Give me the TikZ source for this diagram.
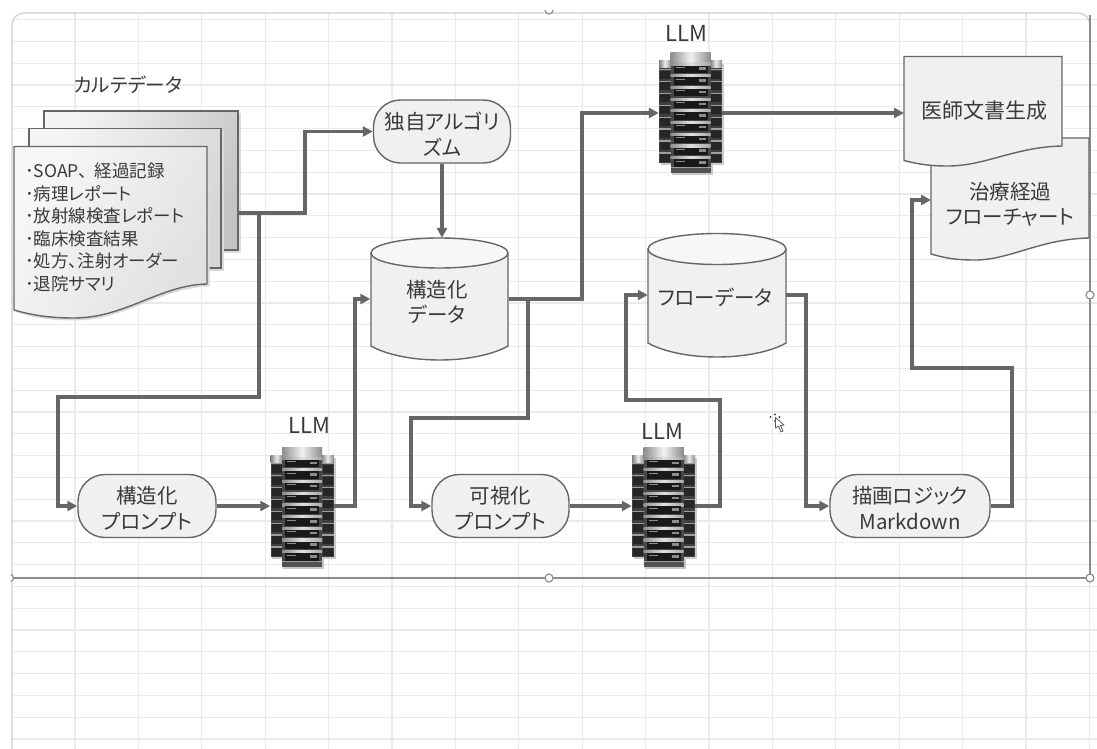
\documentclass[tikz,border=0pt]{standalone}
\usepackage{fontspec}
\setmainfont[RawFeature=+palt]{Noto Sans CJK JP}
\usetikzlibrary{arrows.meta,calc}
\definecolor{inkc}{HTML}{3A3A3A}
\definecolor{linec}{HTML}{666666}
\definecolor{edgec}{HTML}{666666}
\definecolor{fillc}{HTML}{F0F0F2}
\definecolor{gridc}{HTML}{EAEAEA}
\definecolor{framec}{HTML}{8C8C8C}
\newcommand\ftl{\rule{0pt}{22pt}}
\tikzset{
  x=1pt,y=-1pt,
  conn/.style={draw=linec,line width=3.2pt,line join=miter,>={Triangle[length=10pt,width=10pt]}},
  pill/.style={draw=edgec,line width=1.4pt,fill=fillc,rectangle,rounded corners=27pt,inner sep=0pt,minimum width=#1,minimum height=63pt,align=center,text=inkc,font=\fontsize{20.5}{26}\selectfont},
  cylbox/.style={rectangle,inner sep=0pt,minimum width=138pt,minimum height=#1},
  srvbox/.style={rectangle,inner sep=0pt,minimum width=63pt,minimum height=122pt},
  lab/.style={text=inkc,align=center,inner sep=0pt,font=\fontsize{20.5}{25}\selectfont},
  handle/.style={circle,draw=framec,fill=white,line width=1.2pt,minimum size=8pt,inner sep=0pt},
  srv/.pic={
    \fill[black!20] (-30,-49) rectangle (33.5,52);
    \fill[black!22] (-19,50) rectangle (22,62);
    \foreach \s in {-1,1}{
      \fill[black!75] ({\s*25.5-6},-52) rectangle ({\s*25.5+6},50);
      \shade[left color=black!50,right color=black!45,middle color=black!8] ({\s*25.5-6},-52) rectangle ({\s*25.5+6},-45);
      \foreach \i in {0,...,7}{
        \fill[black!38] ({\s*25.5-6},{-44+\i*11.9}) rectangle ({\s*25.5+6},{-42.6+\i*11.9});
        \fill[black!85] ({\s*25.5-5},{-42.4+\i*11.9}) rectangle ({\s*25.5+5},{-34.4+\i*11.9});
      }
    }
    \fill[black!72] (-20,-60) rectangle (20,60);
    \shade[left color=black!45,right color=black!45,middle color=black!5] (-20,-60) rectangle (20,-50);
    \foreach \i in {0,...,8}{
      \shade[left color=black!45,right color=black!35,middle color=black!12] (-20,{-50+\i*11.7}) rectangle (20,{-47.8+\i*11.7});
      \fill[black!90] (-17,{-47.4+\i*11.7}) rectangle (17,{-40+\i*11.7});
      \fill[black!45] (-15,{-46+\i*11.7}) rectangle (-6,{-45.4+\i*11.7});
      \fill[black!45] (8,{-45.5+\i*11.7}) rectangle (15,{-43+\i*11.7});
    }
    \fill[black!68] (-20,55) rectangle (20,60);
    \fill[black!38] (-20,54) rectangle (20,55);
  }
}
\begin{document}
\begin{tikzpicture}
\useasboundingbox (0,0) rectangle (1097,749);
\fill[white] (0,0) rectangle (1097,749);
% sheet grid
\begin{scope}
  \clip[rounded corners=12pt] (12,13) rectangle (1090,780);
  \foreach \k in {0,...,16} \draw[gridc,line width=1.1pt] ({75+63.4*\k},13) -- ({75+63.4*\k},749);
  \foreach \k in {0,...,33} \draw[gridc,line width=1.1pt] (12,{739-21.8*\k}) -- (1097,{739-21.8*\k});
\end{scope}
\foreach \k in {0,...,33} \draw[gridc,line width=1.1pt] (1090,{739-21.8*\k}) -- (1097,{739-21.8*\k});
\draw[gridc!88!black,line width=1.2pt,rounded corners=12pt] (1090,30) -- (1090,13) -- (12,13) -- (12,780);
% selection frame
\draw[framec,line width=1.1pt] (1090,15) -- (1090,578) -- (12,578);
\node[handle] (hRight) at (1090,295) {};
\node[handle] (hCorner) at (1090,578) {};
\node[handle] (hBottom) at (549,578) {};
\begin{scope}
  \clip (10.5,10.5) rectangle (1097,749);
  \node[handle] (hTop) at (549,10) {};
  \node[handle,minimum size=7pt] (hLeft) at (10,578) {};
\end{scope}
% chart data stack
\fill[black!14] (46,113) rectangle (240.5,252.5);
\shade[left color=white!96!black,right color=black!23,shading angle=65] (44,111) rectangle (238,250);
\draw[edgec,line width=1.4pt] (44,111) rectangle (238,250);
\fill[black!14] (31,130) rectangle (223.5,270.5);
\shade[left color=white!96!black,right color=black!16,shading angle=65] (29,128.5) rectangle (221,268);
\draw[edgec,line width=1.4pt] (29,128.5) rectangle (221,268);
\fill[black!14] (16,149) -- (209.5,149) -- (209.5,286.5) .. controls (160,288) and (125,320.5) .. (76,320.5) .. controls (50,320.5) and (34,318) .. (16,312) -- cycle;
\shade[left color=white!97!black,right color=black!12,shading angle=60] (14,146.5) -- (207,146.5) -- (207,284) .. controls (160,285) and (125,318) .. (74,318) .. controls (48,318) and (32,315) .. (14,310) -- cycle;
\draw[edgec,line width=1.4pt] (14,146.5) -- (207,146.5) -- (207,284) .. controls (160,285) and (125,318) .. (74,318) .. controls (48,318) and (32,315) .. (14,310) -- cycle;
\node[lab,anchor=north west,align=left,font=\fontsize{17.5}{22.6}\selectfont] (chartlist) at (25,162.5) {･SOAP、\hspace{7pt}経過記録\\･病理レポート\\･放射線検査レポート\\･臨床検査結果\\･処方、注射オーダー\\･退院サマリ};
\node[lab,font=\fontsize{19.5}{24}\selectfont] (charttitle) at (128,85) {カルテデータ};
\coordinate (stackR) at (239,213);
% output documents
\draw[edgec,line width=1.4pt,fill=fillc] (931,138) -- (1089,138) -- (1089,238) .. controls (1040,239) and (1010,260) .. (975,260) .. controls (955,260) and (945,258) .. (931,254) -- cycle;
\draw[edgec,line width=1.4pt,fill=fillc] (904,56.5) -- (1062,56.5) -- (1062,146) .. controls (1015,147) and (985,166) .. (948,166) .. controls (928,166) and (918,164) .. (904,160.5) -- cycle;
\node[lab,font=\fontsize{21}{26}\selectfont] (docA) at (984,111) {医師文書生成};
\node[lab,font=\fontsize{20.5}{25}\selectfont] (docB) at (1010,204) {治療経過\\フローチャート};
\coordinate (docAin) at (904,113);
\coordinate (docBin) at (931,200);
% cylinders
\draw[edgec,line width=1.4pt,fill=fillc] (371,253) -- (371,346) .. controls (385,354) and (410,360) .. (439.5,360) .. controls (469,360) and (494,354) .. (508,346) -- (508,253);
\draw[edgec,line width=1.4pt,fill=white!97!black] (439.5,253) ellipse [x radius=68.5,y radius=15];
\node[cylbox=122pt] (struct) at (439.5,299) {};
\node[lab] (structlab) at (437,302) {構造化\\データ};
\draw[edgec,line width=1.4pt,fill=fillc] (648,249) -- (648,343) .. controls (662,351) and (687,357) .. (717,357) .. controls (747,357) and (772,351) .. (786,343) -- (786,249);
\draw[edgec,line width=1.4pt,fill=white!97!black] (717,249) ellipse [x radius=69,y radius=15.5];
\node[cylbox=124pt] (flow) at (717,295) {};
\node[lab] (flowlab) at (715,297) {フローデータ};
% pills
\node[pill=137pt] (algo) at (442,131.5) {\ftl 独自アルゴリ\\ズム};
\node[pill=138pt] (promptA) at (147,506) {\ftl 構造化\\プロンプト};
\node[pill=137pt] (promptB) at (500.5,506) {\ftl 可視化\\プロンプト};
\node[pill=160pt] (mdown) at (910,506) {\ftl 描画ロジック\\Markdown};
% servers
\node[srvbox] (srvA) at (690.5,113) {};
\node[srvbox] (srvB) at (302,506) {};
\node[srvbox] (srvC) at (663.5,506) {};
\pic at (srvA) {srv};
\pic at ($(srvB)+(0,1)$) {srv};
\pic at ($(srvC)+(0,1)$) {srv};
\node[lab,font=\fontsize{22}{25}\selectfont] (llmA) at (686,33) {LLM};
\node[lab,font=\fontsize{22}{25}\selectfont] (llmB) at (309,425) {LLM};
\node[lab,font=\fontsize{22}{25}\selectfont] (llmC) at (662,431) {LLM};
% waypoints
\coordinate (a1) at (305,213);
\coordinate (a2) at (305,131.5);
\coordinate (b0) at (259,213);
\coordinate (b1) at (259,397);
\coordinate (b2) at (58,397);
\coordinate (b3) at (58,506);
\coordinate (c1) at (355,506);
\coordinate (c2) at (355,299);
\coordinate (d1) at (582,299);
\coordinate (d2) at (582,113);
\coordinate (e0) at (528,299);
\coordinate (e1) at (528,418);
\coordinate (e2) at (411,418);
\coordinate (e3) at (411,506);
\coordinate (f1) at (720,506);
\coordinate (f2) at (720,400);
\coordinate (f3) at (626,400);
\coordinate (f4) at (626,295);
\coordinate (g1) at (806,295);
\coordinate (g2) at (806,506);
\coordinate (h1) at (1012,506);
\coordinate (h2) at (1012,368);
\coordinate (h3) at (912,368);
\coordinate (h4) at (912,200);
% connectors
\draw[conn,->] (stackR) -- (a1) -- (a2) -- (algo.west);
\draw[conn,->] (b0) -- (b1) -- (b2) -- (b3) -- (promptA.west);
\draw[conn,->] (promptA.east) -- (srvB.west);
\draw[conn,->] (srvB.east) -- (c1) -- (c2) -- (struct.west);
\draw[conn,->] (algo.south) -- (struct.north -| algo.south);
\draw[conn,->] (struct.east) -- (d1) -- (d2) -- (srvA.west);
\draw[conn,->] (e0) -- (e1) -- (e2) -- (e3) -- (promptB.west);
\draw[conn,->] (promptB.east) -- (srvC.west);
\draw[conn,->] (srvC.east) -- (f1) -- (f2) -- (f3) -- (f4) -- (flow.west);
\draw[conn,->] (flow.east) -- (g1) -- (g2) -- (mdown.west);
\draw[conn,->] (mdown.east) -- (h1) -- (h2) -- (h3) -- (h4) -- (docBin);
\draw[conn,->] (srvA.east) -- (docAin);
% move cursor
\fill[black!70] (775,414.5) circle (1.2) (770.5,417) circle (1.2) (779.5,417) circle (1.2) (775,421) circle (1.2);
\draw[black!65,fill=white,line width=.8pt,line join=round] (775.5,417.5) -- (775.5,428) -- (778.5,426) -- (781,432) -- (783,431) -- (780.5,425.5) -- (784,425) -- cycle;
\end{tikzpicture}
\end{document}
